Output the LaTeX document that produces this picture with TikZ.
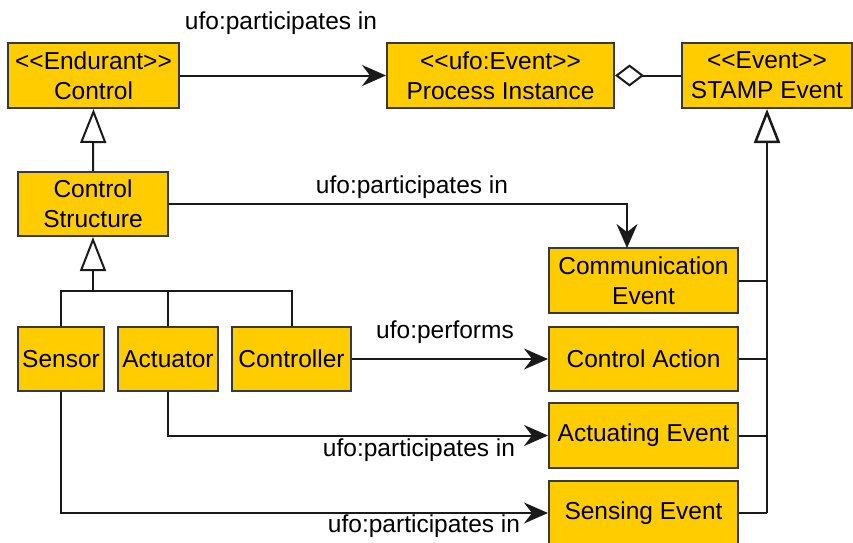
\documentclass[tikz,border=0pt]{standalone}
\usepackage{fontspec}
\setmainfont{Liberation Sans}
\usetikzlibrary{arrows.meta}
\definecolor{boxfill}{HTML}{FFCC00}
\definecolor{boxline}{HTML}{36393D}
\definecolor{wire}{HTML}{1A1A1A}
\begin{document}
\begin{tikzpicture}[x=1pt,y=-1pt,
  font=\fontsize{24.5}{30}\selectfont,
  box/.style={draw=boxline,fill=boxfill,line width=2pt,inner sep=0pt,align=center,minimum height=64pt},
  conn/.style={draw=wire,line width=2pt},
  assoc/.style={conn,-{Stealth[length=24pt,width=21pt,inset=8pt]}},
  gen/.style={conn,-{Triangle[open,fill=white,length=34pt,width=26pt]}},
  agg/.style={conn,-{Diamond[open,fill=white,length=29pt,width=22pt]}},
  lbl/.style={inner sep=0pt}]
\useasboundingbox (0,0) rectangle (853,542);
\node[box,minimum width=171pt,minimum height=65pt] (ctrl) at (93.5,75.5) {<{}<Endurant>{}>\\Control};
\node[box,minimum width=227pt,minimum height=65pt] (proc) at (500.5,75.5) {<{}<ufo:Event>{}>\\Process Instance};
\node[box,minimum width=170pt,minimum height=65pt] (stamp) at (767,75.5) {<{}<Event>{}>\\STAMP Event};
\node[box,minimum width=150pt] (cs) at (93,204) {Control\\Structure};
\node[box,minimum width=189pt,minimum height=65pt] (comm) at (643.5,280.5) {Communication\\Event};
\node[box,minimum width=189pt] (ca) at (643.5,359) {Control Action};
\node[box,minimum width=189pt,minimum height=65pt] (ae) at (643.5,435.5) {Actuating Event};
\node[box,minimum width=189pt] (se) at (643.5,513) {Sensing Event};
\node[box,minimum width=86pt] (sensor) at (61,359) {Sensor};
\node[box,minimum width=100pt] (actuator) at (168,359) {Actuator};
\node[box,minimum width=119pt] (controller) at (291.5,359) {Controller};
% top row
\draw[assoc] (ctrl.east) -- (proc.west);
\node[lbl] (l1) at (281,23) {ufo:participates in};
\draw[agg] (stamp.west) -- (proc.east);
% generalisations
\draw[gen] (cs.north) -- (ctrl.south);
\coordinate (tj) at (93,291);
\draw[conn] (sensor.north) -- (sensor.north |- tj) -- (controller.north |- tj) -- (controller.north);
\draw[conn] (actuator.north) -- (actuator.north |- tj);
\draw[gen] (tj) -- (cs.south);
% control structure -> communication event
\coordinate (commin) at (627,248);
\draw[assoc] (cs.east) -| (commin);
\node[lbl] (l2) at (412,187) {ufo:participates in};
% controller -> control action
\draw[assoc] (controller.east) -- (ca.west);
\node[lbl] (l3) at (445,332) {ufo:performs};
% actuator -> actuating event
\draw[assoc] (actuator.south) |- (ae.west);
\node[lbl] (l4) at (419,450) {ufo:participates in};
% sensor -> sensing event
\draw[assoc] (sensor.south) |- (se.west);
\node[lbl] (l5) at (424,526) {ufo:participates in};
% event bus
\coordinate (busend) at (767,513);
\draw[gen,line width=2.5pt] (busend) -- (stamp.south);
\draw[conn] (comm.east) -- (comm.east -| busend);
\draw[conn] (ca.east) -- (ca.east -| busend);
\draw[conn] (ae.east) -- (ae.east -| busend);
\draw[conn] (se.east) -- (busend);
\end{tikzpicture}
\end{document}
